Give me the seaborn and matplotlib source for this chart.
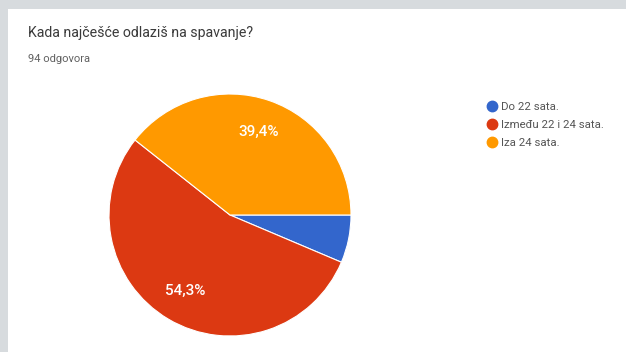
import matplotlib
matplotlib.use("Agg")
import matplotlib.pyplot as plt
from matplotlib.lines import Line2D
from matplotlib.patches import Rectangle
import seaborn as sns

# Survey answers (94 responses)
categories = ["Do 22 sata.", "Između 22 i 24 sata.", "Iza 24 sata."]
counts = [6, 51, 37]
colors = ["#3366cc", "#dc3912", "#ff9900"]
title = "Kada najčešće odlaziš na spavanje?"
subtitle = "94 odgovora"

sns.set_theme(style="white")
plt.rcParams["font.family"] = ["Roboto", "DejaVu Sans"]

W, H = 626, 352
fig = plt.figure(figsize=(W / 100, H / 100), dpi=100)
fig.patch.set_facecolor("#d7dbde")
# white card behind everything
fig.patches.append(Rectangle((8 / W, 0), 1, 1 - 9 / H, transform=fig.transFigure,
                             facecolor="white", edgecolor="none", zorder=-10))

fig.text(28 / W, 1 - 33 / H, title, fontsize=10.2, color="#3a3a3a", va="center", ha="left")
fig.text(28 / W, 1 - 59 / H, subtitle, fontsize=8.0, color="#606060", va="center", ha="left")

cx, cy, r = 230, 215, 121
ax = fig.add_axes([(cx - r) / W, (H - cy - r) / H, 2 * r / W, 2 * r / H])
ax.set_facecolor("none")


def pct_label(p):
    return f"{p:.1f}".replace(".", ",") + "%" if p >= 10 else ""


wedges, _, autotexts = ax.pie(counts, colors=colors, startangle=0, counterclock=False,
                              autopct=pct_label, pctdistance=0.73,
                              wedgeprops=dict(edgecolor="white", linewidth=0.8),
                              textprops=dict(color="white", fontsize=11, fontweight="medium"))
ax.set_xlim(-1, 1)
ax.set_ylim(-1, 1)
ax.set_aspect("equal")
ax.axis("off")

handles = [Line2D([0], [0], marker="o", linestyle="none", markersize=7.5,
                  markerfacecolor=c, markeredgecolor=c) for c in colors]
fig.legend(handles, categories, loc="upper left", bbox_to_anchor=(479 / W, 1 - 96 / H),
           frameon=False, fontsize=8.2, labelspacing=0.72, handletextpad=0.2,
           handlelength=1.2, borderpad=0, labelcolor="#555555")

fig.savefig("out.png", dpi=100, facecolor=fig.get_facecolor())
